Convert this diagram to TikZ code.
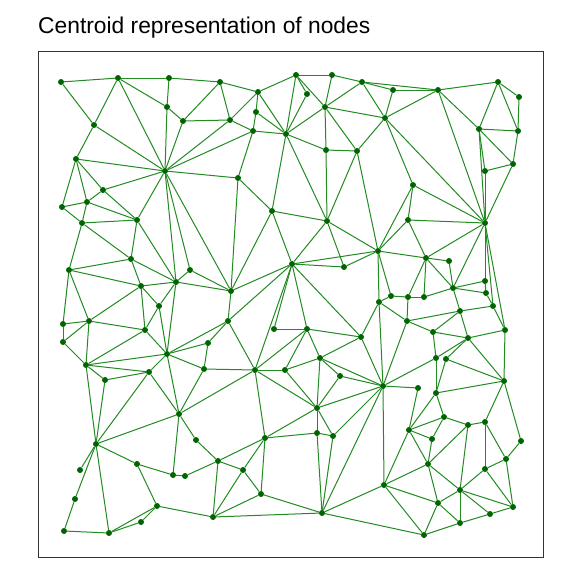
\documentclass[tikz,border=0pt]{standalone}
\usepackage{fontspec}
\setmainfont{Liberation Sans}
\begin{document}
\begin{tikzpicture}[x=1pt,y=-1pt]
\definecolor{edgecol}{RGB}{34,139,34}
\definecolor{dotcol}{RGB}{0,100,0}
\definecolor{framecol}{RGB}{51,51,51}
\tikzset{pt/.style={circle,fill=dotcol,inner sep=0pt,minimum size=6pt},
 ed/.style={draw=edgecol,line width=1pt}}
\useasboundingbox (0,0) rectangle (576,576);
\fill[white] (0,0) rectangle (576,576);
\node[anchor=base west,inner sep=0pt,font=\fontsize{22.8}{27}\selectfont] (title) at (38,33) {Centroid representation of nodes};
\draw[line width=1pt,draw=framecol] (38,51.5) rectangle (543,557);
\foreach \n/\x/\y in {a1/61/82,a2/118/78,a3/169/78,a4/220/82,a5/258/92,a6/296/75,a7/332/75,a8/307/94,a9/362/82,a10/393/90,a11/438/90,a12/498/82,a13/519/97,a14/167/107,a15/183/121,a16/230/120,a17/256/112,a18/253/131,a19/325/107,a20/286/134,a21/326/150,a22/357/151,a25/385/118,a26/479/129,a27/518/131,a28/513/164,a29/485/171,n6/94/125,n7/76/159,n8/165/171,a23/238/178,a32/413/185,a33/485/223,a34/408/220,a35/378/251,a36/426/258,a37/449/261,a38/485/281,a39/453/288,a40/486/293,a41/391/296,a42/408/297,a43/424/297,a44/379/302,a45/493/306,a46/460/311,b1/103/190,b2/87/202,b3/62/207,b4/82/223,b5/137/220,b6/131/259,b7/69/270,b8/190/270,b9/176/282,b10/141/286,b11/159/306,c1/63/324,c2/89/321,c3/63/342,c4/145/330,c5/167/354,c6/86/365,c7/149/372,c8/105/380,c9/204/369,c10/208/343,c11/179/414,d1/228/321,d2/255/370,d3/274/329,d4/307/329,d5/361/337,d6/320/358,d7/285/370,d8/340/376,d9/317/408,d10/265/438,d11/317/433,d12/333/436,i1/272/211,i2/327/221,h/292/264,i3/344/267,i4/231/291,f1/407/321,f2/505/330,f3/433/332,f4/468/338,f5/436/358,f6/446/359,k/383/386,f7/418/388,f8/436/393,f9/504/381,f10/444/417,f11/409/430,f12/468/425,f13/485/422,f14/432/439,g1/521/441,g2/506/459,g3/485/469,g4/428/464,g5/384/485,g6/460/490,g7/438/503,g8/513/507,g9/490/514,g10/460/523,g11/424/535,e1/96/444,e2/80/470,e3/75/499,e4/64/531,e5/109/533,e6/137/464,e7/173/475,e8/185/476,e9/157/506,e10/141/522,e11/196/440,h1/218/461,h2/243/470,h3/261/494,h4/213/517,h5/322/513}
  \node[pt] (\n) at (\x,\y) {};
\foreach \a/\b in {a1/a2,a1/n6,a2/a3,a2/n6,a2/a14,a2/n8,a3/a14,a3/a4,a14/a15,a14/n8,a15/n8,a15/a4,a15/a16,n6/n7,n6/n8,n7/n8,
a4/a5,a4/a16,a5/a16,a5/a17,a5/a6,a5/a20,a6/a7,a6/a8,a6/a19,a6/a20,a8/a20,a7/a19,a7/a9,a9/a19,a9/a10,a9/a11,a9/a25,a19/a20,a19/a21,a19/a25,a19/a22,a16/a18,a17/a18,a17/a20,a18/a20,a16/n8,a18/n8,a18/a23,n8/a23,a20/a21,a20/i1,a20/i2,
a10/a11,a10/a25,a11/a25,a11/a12,a11/a26,a11/a33,a12/a13,a12/a26,a12/a27,a13/a27,a26/a27,a26/a28,a26/a29,a26/a33,a27/a28,a28/a29,a28/a33,a29/a33,
a22/a25,a25/a32,a25/a33,a21/a22,a21/i2,a22/i2,a22/a35,
a32/a33,a32/a34,a32/a35,a33/a34,a33/a36,a33/a38,a33/a39,a33/a45,a33/f2,a34/a35,a34/a36,a35/a36,a36/a37,a36/a39,a36/a42,a36/a43,a37/a39,a38/a39,a39/a40,a39/a43,a39/a46,a42/a43,a41/a42,a35/a41,a35/a44,a41/a44,a38/a40,a40/a45,a45/a46,a45/f2,
n7/b1,n7/b2,n7/b3,n8/b1,n8/b5,n8/b8,n8/b9,n8/i4,b1/b2,b1/b5,b2/b3,b2/b4,b2/b5,b3/b4,b4/b5,b4/b6,b4/b7,b5/b6,b5/b9,b6/b7,b6/b9,b6/b10,b7/b10,b9/b10,b9/b11,b10/b11,b9/b8,b8/i4,b9/i4,b7/c1,b7/c2,
c1/c2,c1/c3,c2/c3,c2/c4,c2/c6,c2/b10,c4/b10,c4/b11,c4/c5,c4/c6,c5/b11,c5/b9,c5/d1,c5/c10,c5/c6,c5/c7,c5/c9,c5/c11,c3/c6,c6/c7,c6/c8,c7/c8,c7/c11,c6/e1,c7/e1,c8/e1,c9/c10,c9/c11,c11/d2,c11/e1,c11/e7,c11/e11,
a23/i1,a23/i4,i1/i2,i1/h,i1/i4,i2/h,i2/i3,i2/a35,h/a35,h/i3,i3/a35,h/i4,i4/d1,h/d1,h/d2,h/d3,h/d4,h/d5,d1/c10,d1/d2,c9/d2,d2/d4,d3/d4,d2/d7,d2/d9,d2/d10,d4/d5,d4/d6,d4/d7,d5/d6,d5/a44,d5/k,d6/d7,d6/d8,d6/d9,d6/k,d8/k,d8/d9,d9/k,d9/d11,d9/d12,d10/d11,d11/d12,d12/k,d7/d9,d9/d10,
f1/a46,f1/f3,f1/a44,f1/a42,f1/k,a46/f3,a46/f4,f2/f4,f3/f4,f3/f5,f4/f5,f4/f6,f4/f9,f2/f9,f5/k,f5/f8,f6/f9,f6/f8,k/f7,f7/f11,f8/f11,f8/f9,f8/f10,f9/f13,f9/g1,f10/f11,f10/f12,f12/f13,k/a44,k/g5,k/h5,
f14/g4,g1/g2,g2/g3,g2/g8,g3/g6,g3/f13,g3/g8,g4/f11,g4/g5,g4/g6,g4/g7,g4/f12,g5/f11,g5/g7,g5/g11,g5/h5,g6/g7,g6/g8,g6/g9,g6/g10,g7/g10,g7/g11,g10/g11,g10/g9,g9/g8,g11/h5,g6/f12,f14/f11,f14/f10,g2/f13,
e1/e2,e1/e3,e3/e4,e1/e5,e1/e6,e4/e5,e5/e9,e5/e10,e9/e10,e6/e9,e6/e7,e7/e8,e8/h1,e11/h1,e9/h4,
d10/h1,d10/h2,d10/h3,h1/h2,h1/h4,h2/h3,h2/h4,h3/h4,h3/h5,h4/h5,d11/h5,d12/h5}
  \draw[ed] (\a) -- (\b);
\end{tikzpicture}
\end{document}
